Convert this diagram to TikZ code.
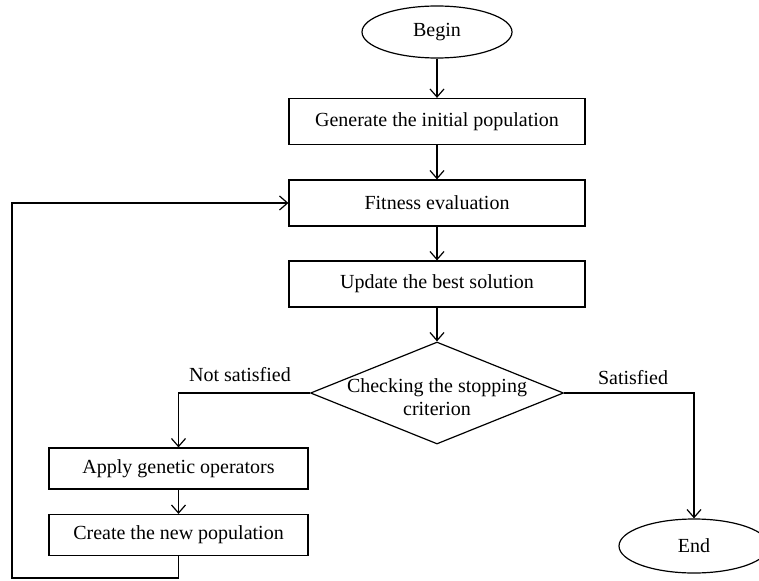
\documentclass[tikz,border=0pt]{standalone}
\usepackage{fontspec}
\setmainfont{Liberation Serif}
\usetikzlibrary{arrows.meta,shapes.geometric}

\begin{document}
\begin{tikzpicture}[x=1pt,y=-1pt,line width=1.2pt,
    every node/.style={font=\fontsize{20}{23}\selectfont},
    terminal/.style={draw,ellipse,minimum width=150pt,minimum height=52pt,inner sep=0pt},
    process/.style={draw,rectangle,minimum width=296pt,minimum height=46pt,inner sep=0pt},
    smallproc/.style={draw,rectangle,minimum width=259pt,minimum height=41pt,inner sep=0pt},
    decision/.style={draw,diamond,minimum width=253pt,minimum height=102pt,inner sep=0pt},
    flow/.style={-{Straight Barb[length=8pt,width=14pt]}}]
    \useasboundingbox (0,0) rectangle (759,580);
    \clip (0,0) rectangle (759,580);
    % main column
    \node[terminal] (begin) at (437,32) {Begin};
    \node[process] (init) at (437,121.5) {Generate the initial population};
    \node[process] (fit) at (437,203) {Fitness evaluation};
    \node[process] (best) at (437,284) {Update the best solution};
    \node[decision] (check) at (437,393) {};
    \node[align=center] (checktext) at (437,397) {Checking the stopping\\criterion};
    % left branch
    \node[smallproc] (apply) at (178.5,468.5) {Apply genetic operators};
    \node[smallproc] (create) at (178.5,535) {Create the new population};
    % right branch
    \node[terminal,minimum height=54pt] (end) at (694,546) {End};
    \node (notsat) at (240,375) {Not satisfied};
    \node (sat) at (633,378) {Satisfied};
    \coordinate (loopdown) at (178.5,578);
    \coordinate (loopleft) at (12,578);

    \draw[flow] (begin) -- (init);
    \draw[flow] (init) -- (fit);
    \draw[flow] (fit) -- (best);
    \draw[flow] (best) -- (check);
    \draw[flow] (check.west) -| (apply.north);
    \draw[flow] (apply) -- (create);
    \draw[flow] (create.south) -- (loopdown) -- (loopleft) |- (fit.west);
    \draw[flow] (check.east) -| (end.north);
\end{tikzpicture}
\end{document}
